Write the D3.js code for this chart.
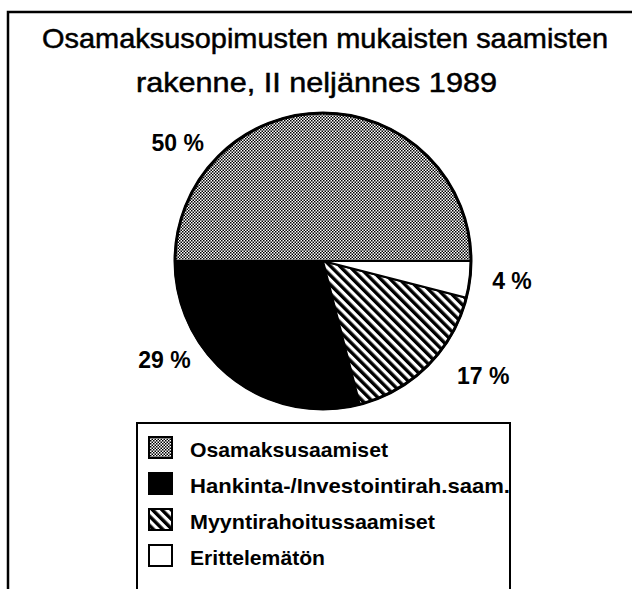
<!DOCTYPE html>
<meta charset='utf-8'>
<head>
  <style>
    body { margin: 0; background: #fff; }
    svg { display: block; font-family: 'Liberation Sans', Arial, sans-serif; }
    .title { font-size: 28px; fill: #000; stroke: #000; stroke-width: 0.5px; }
    .pct { font-size: 23px; font-weight: bold; }
    .legend text { font-size: 21px; font-weight: bold; }
  </style>
</head>
<body>
<script src='https://cdn.jsdelivr.net/npm/d3@7'></script>
<script>

// data
var categories = ['Osamaksusaamiset', 'Hankinta-/Investointirah.saam.', 'Myyntirahoitussaamiset', 'Erittelemätön'];
var shares = [50, 29, 17, 4];
var fills = ['url(#stipple)', '#000', 'url(#hatch)', '#fff'];
var titleLines = ['Osamaksusopimusten mukaisten saamisten', 'rakenne, II neljännes 1989'];

// layout
var width = 632, height = 589;
var cx = 323, cy = 261, radius = 148;
// label placement (angle in degrees clockwise from 12 o'clock, distance from centre)
var labelPlace = [
  {angle: -51, dist: 187},
  {angle: -122, dist: 187},
  {angle: 125.6, dist: 197},
  {angle: 96, dist: 190}
];
var legendLen = [198, 320, 245, 135];

var svg = d3.select('body').append('svg')
    .attr('width', width)
    .attr('height', height);

var defs = svg.append('defs');

var stip = defs.append('pattern')
    .attr('id', 'stipple')
    .attr('patternUnits', 'userSpaceOnUse')
    .attr('width', 3).attr('height', 3);
stip.append('rect').attr('width', 3).attr('height', 3).attr('fill', '#fff');
stip.append('rect').attr('width', 1.5).attr('height', 1.5).attr('fill', '#000');
stip.append('rect').attr('x', 1.5).attr('y', 1.5).attr('width', 1.5).attr('height', 1.5).attr('fill', '#000');

var hatch = defs.append('pattern')
    .attr('id', 'hatch')
    .attr('patternUnits', 'userSpaceOnUse')
    .attr('width', 6.6).attr('height', 6.6)
    .attr('patternTransform', 'rotate(-45)');
hatch.append('rect').attr('width', 6.6).attr('height', 6.6).attr('fill', '#fff');
hatch.append('rect').attr('width', 3.4).attr('height', 6.6).attr('fill', '#000');

// frame
svg.append('path')
    .attr('d', 'M8,600 V12 H640')
    .attr('fill', 'none')
    .attr('stroke', '#000')
    .attr('stroke-width', 2.5);

// title
svg.selectAll('.title')
    .data(titleLines)
  .enter().append('text')
    .attr('class', 'title')
    .attr('x', (d, i) => i === 0 ? 42 : 136)
    .attr('y', (d, i) => 48 + i * 44)
    .attr('textLength', (d, i) => i === 0 ? 566 : 361)
    .attr('lengthAdjust', 'spacingAndGlyphs')
    .text(d => d);

// pie: legend order, counter-clockwise from 3 o'clock
var data = categories.map((c, i) => ({name: c, value: shares[i], fill: fills[i]}));

var pie = d3.pie()
    .sort(null)
    .value(d => d.value)
    .startAngle(Math.PI / 2)
    .endAngle(Math.PI / 2 - 2 * Math.PI);

var arc = d3.arc().innerRadius(0).outerRadius(radius);

var g = svg.append('g').attr('transform', 'translate(' + cx + ',' + cy + ')');

g.selectAll('path.slice')
    .data(pie(data))
  .enter().append('path')
    .attr('class', 'slice')
    .attr('d', arc)
    .attr('fill', d => d.data.fill)
    .attr('stroke', '#000')
    .attr('stroke-width', 2)
    .attr('stroke-linejoin', 'round');

g.append('circle')
    .attr('r', radius)
    .attr('fill', 'none')
    .attr('stroke', '#000')
    .attr('stroke-width', 3);

g.selectAll('text.pct')
    .data(data)
  .enter().append('text')
    .attr('class', 'pct')
    .attr('text-anchor', 'middle')
    .attr('x', (d, i) => Math.sin(labelPlace[i].angle * Math.PI / 180) * labelPlace[i].dist)
    .attr('y', (d, i) => -Math.cos(labelPlace[i].angle * Math.PI / 180) * labelPlace[i].dist + 8)
    .text(d => d.value + ' %');

// legend
var legend = svg.append('g').attr('class', 'legend');

legend.append('path')
    .attr('d', 'M137,600 V423 H510 V600')
    .attr('fill', 'none')
    .attr('stroke', '#000')
    .attr('stroke-width', 2);

var row = d3.scaleBand().domain(categories).range([437, 581]);

var item = legend.selectAll('g.item')
    .data(data)
  .enter().append('g')
    .attr('class', 'item')
    .attr('transform', d => 'translate(0,' + row(d.name) + ')');

item.append('rect')
    .attr('x', 149).attr('y', 0)
    .attr('width', 23).attr('height', 21)
    .attr('fill', d => d.fill)
    .attr('stroke', '#000')
    .attr('stroke-width', 2);

item.append('text')
    .attr('x', 190)
    .attr('y', 20)
    .attr('textLength', (d, i) => legendLen[i])
    .attr('lengthAdjust', 'spacingAndGlyphs')
    .text(d => d.name);

</script>
</body>
